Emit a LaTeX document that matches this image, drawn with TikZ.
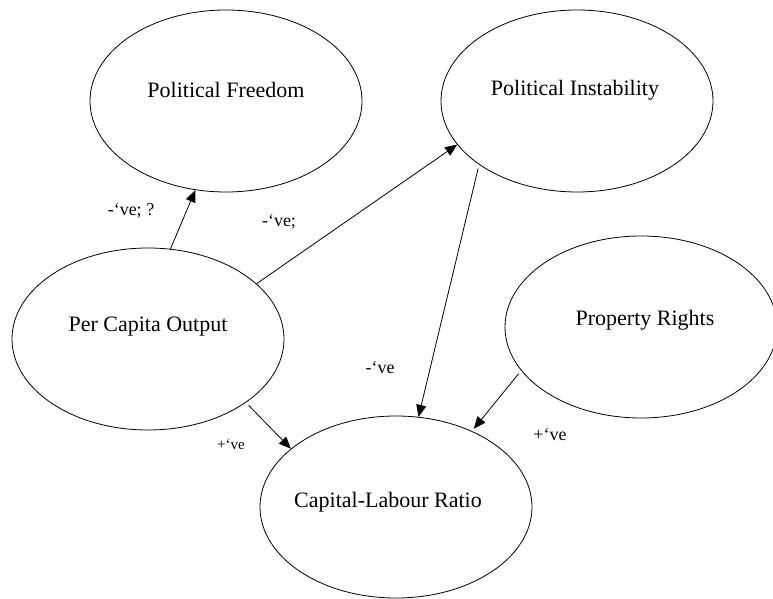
\documentclass[tikz,border=0pt]{standalone}
\usepackage{fontspec}
\setmainfont{Liberation Serif}
\usetikzlibrary{shapes.geometric,arrows.meta}
\begin{document}
\begin{tikzpicture}[x=1pt,y=1pt,
  oval/.style={ellipse,draw,line width=0.8pt,minimum width=272pt,minimum height=182pt,inner sep=0pt},
  ovaltext/.style={font=\fontsize{22}{26}\selectfont},
  sign/.style={font=\fontsize{18}{21}\selectfont},
  smallsign/.style={font=\fontsize{15}{18}\selectfont},
  conn/.style={line width=0.8pt,-{Triangle[length=12pt,width=10pt]}}]
\useasboundingbox (0,0) rectangle (773,598);
\node[oval] (pf) at (226,497) {};
\node[oval] (pi) at (577,497) {};
\node[oval] (pco) at (148,259) {};
\node[oval] (pr) at (641,271) {};
\node[oval] (clr) at (396,91) {};
\node[ovaltext] (pft) at (226,508) {Political Freedom};
\node[ovaltext] (pit) at (575,508) {Political Instability};
\node[ovaltext] (pcot) at (148,271) {Per Capita Output};
\node[ovaltext] (prt) at (645,278) {Property Rights};
\node[ovaltext] (clrt) at (388,96) {Capital-Labour Ratio};
\draw[conn] (pco.76.4) -- (pf.-109.9);
\draw[conn] (pco.27) -- (pi.200.2);
\draw[conn,shorten <=4pt] (pi.213.4) -- (clr.76.3);
\draw[conn,shorten <=4pt,shorten >=3pt] (pr.200.7) -- (clr.45);
\draw[conn,shorten <=4pt] (pco.-33.9) -- (clr.151.2);
\node[sign] (l1) at (131,387) {-‘ve; ?};
\node[sign] (l2) at (279,376) {-‘ve;};
\node[sign] (l3) at (380,230) {-‘ve};
\node[smallsign] (l4) at (231,153) {+‘ve};
\node[sign] (l5) at (550,163) {+‘ve};
\end{tikzpicture}
\end{document}
